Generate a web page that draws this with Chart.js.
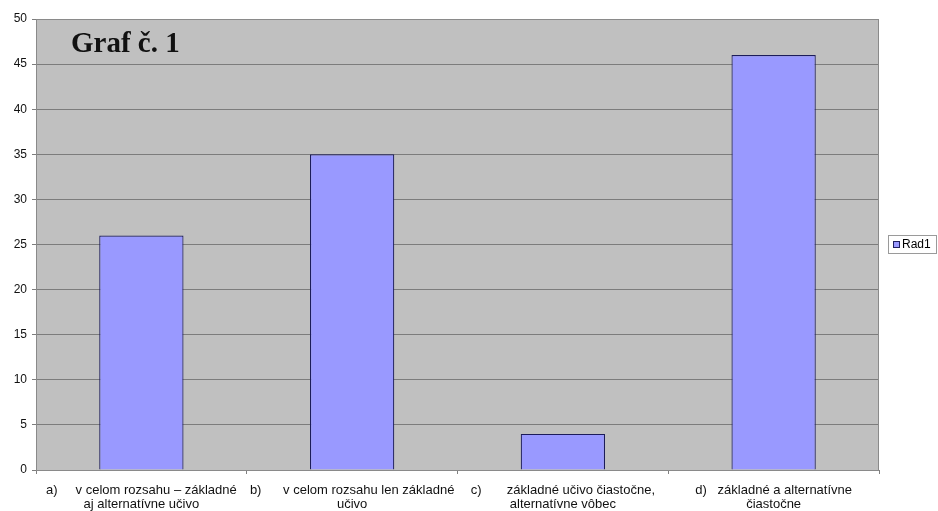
<!DOCTYPE html>
<html>
<head>
<meta charset="utf-8">
<script src="https://cdn.jsdelivr.net/npm/chart.js@4/dist/chart.umd.min.js"></script>
<style>
  html, body { margin: 0; padding: 0; background: #ffffff; }
  #wrap { width: 938px; height: 511px; position: relative; }
</style>
</head>
<body>
<div id="wrap"><canvas id="c"></canvas></div>
<script>
// Answer categories (each label split into two lines)
const categories = [
  ['a)     v celom rozsahu \u2013 základné', 'aj alternatívne učivo'],
  ['b)      v celom rozsahu len základné', 'učivo'],
  ['c)       základné učivo čiastočne,', 'alternatívne vôbec'],
  ['d)   základné a alternatívne', 'čiastočne']
];
const seriesName = 'Rad1';
const seriesValues = [26, 35, 4, 46];
const chartTitle = 'Graf č. 1';
const yMin = 0, yMax = 50, yStep = 5;

// Grey plot background, frame, inset title and boxed legend
const decor = {
  id: 'decor',
  beforeDraw(chart) {
    const { ctx, chartArea: a } = chart;
    ctx.save();
    ctx.fillStyle = '#c0c0c0';
    ctx.fillRect(a.left, a.top, a.right - a.left, a.bottom - a.top);
    ctx.restore();
  },
  afterDatasetsDraw(chart) {
    const { ctx, chartArea: a } = chart;
    ctx.save();
    ctx.strokeStyle = '#8a8a8a';
    ctx.lineWidth = 1;
    ctx.strokeRect(a.left + 0.5, a.top + 0.5, a.right - a.left - 1, a.bottom - a.top);

    ctx.fillStyle = '#111111';
    ctx.font = 'bold 29px "Liberation Serif", "Times New Roman", serif';
    ctx.textBaseline = 'alphabetic';
    ctx.fillText(chartTitle, a.left + 35, a.top + 33);

    // legend box
    const ds = chart.data.datasets[0];
    const lx = 888, ly = 235, lw = 49, lh = 19;
    ctx.fillStyle = '#ffffff';
    ctx.fillRect(lx, ly, lw, lh);
    ctx.strokeStyle = '#9a9a9a';
    ctx.strokeRect(lx + 0.5, ly + 0.5, lw - 1, lh - 1);
    ctx.fillStyle = ds.backgroundColor;
    ctx.fillRect(lx + 5, ly + 6, 7, 7);
    ctx.strokeStyle = '#202060';
    ctx.strokeRect(lx + 5.5, ly + 6.5, 6, 6);
    ctx.fillStyle = '#000000';
    ctx.font = '12px "Liberation Sans", Arial, sans-serif';
    ctx.textBaseline = 'middle';
    ctx.fillText(ds.label, lx + 14, ly + 10);
    ctx.restore();
  }
};

new Chart(document.getElementById('c'), {
  type: 'bar',
  data: {
    labels: categories,
    datasets: [{
      label: seriesName,
      data: seriesValues,
      backgroundColor: '#9999ff',
      borderColor: '#1c1c5a',
      borderWidth: 1.2,
      categoryPercentage: 0.4,
      barPercentage: 1.0
    }]
  },
  options: {
    responsive: true,
    maintainAspectRatio: false,
    animation: false,
    layout: { padding: { top: 19, right: 59, left: 0, bottom: 0 } },
    plugins: {
      legend: { display: false },
      tooltip: { enabled: false }
    },
    scales: {
      x: {
        offset: true,
        afterFit(scale) { scale.height = 41; },
        grid: {
          offset: true,
          drawOnChartArea: false,
          drawTicks: true,
          tickLength: 4,
          color: '#808080'
        },
        border: { color: '#808080', width: 1 },
        ticks: {
          color: '#111111',
          font: { family: '"Liberation Sans", Arial, sans-serif', size: 13, lineHeight: 1.1 },
          padding: 9,
          maxRotation: 0,
          autoSkip: false
        }
      },
      y: {
        min: yMin,
        max: yMax,
        afterFit(scale) { scale.width = 36; },
        grid: {
          color: '#7c7c7c',
          lineWidth: 1,
          tickLength: 4
        },
        border: { color: '#808080', width: 1 },
        ticks: {
          stepSize: yStep,
          color: '#111111',
          font: { family: '"Liberation Sans", Arial, sans-serif', size: 12 },
          padding: 5
        }
      }
    }
  },
  plugins: [decor]
});
</script>
</body>
</html>
